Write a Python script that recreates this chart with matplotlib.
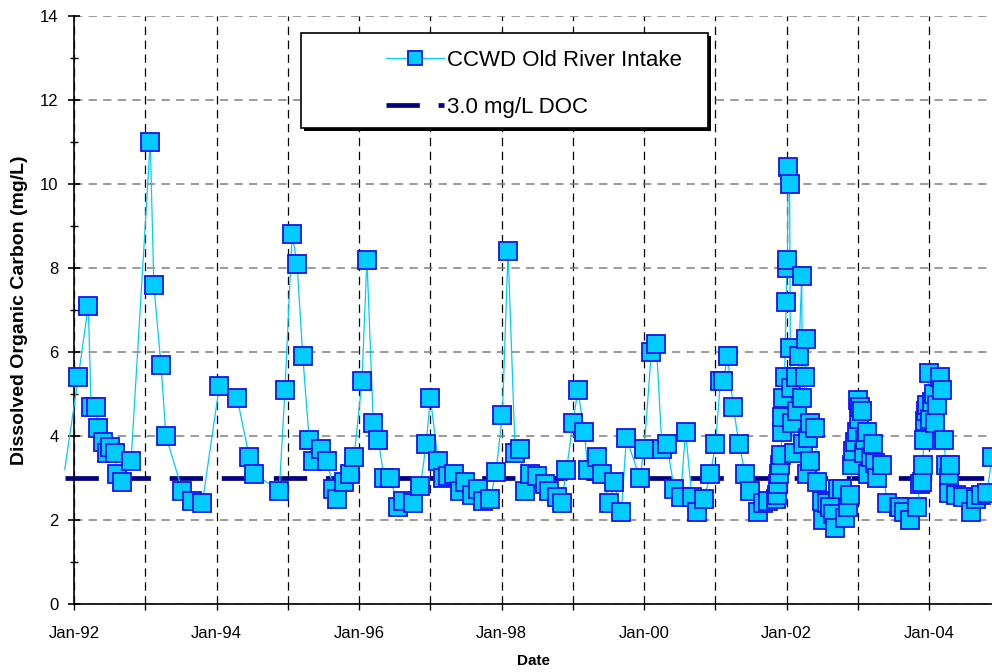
import matplotlib
matplotlib.use("Agg")
import matplotlib.pyplot as plt
from matplotlib.lines import Line2D
from matplotlib.patches import Rectangle
from matplotlib.ticker import MultipleLocator, FixedLocator

plt.rcParams['font.family'] = ['Liberation Sans', 'DejaVu Sans']
plt.rcParams['lines.scale_dashes'] = False

# sample dates as decimal years, DOC in mg/L (first point lies just before the axis)
dates = [
    1991.87, 1992.06, 1992.20, 1992.24, 1992.31, 1992.34, 1992.41, 1992.46, 1992.51,
    1992.58, 1992.60, 1992.67, 1992.80, 1993.07, 1993.12, 1993.22, 1993.29, 1993.52,
    1993.66, 1993.80, 1994.04, 1994.29, 1994.46, 1994.53, 1994.88, 1994.96, 1995.06,
    1995.13, 1995.21, 1995.30, 1995.35, 1995.47, 1995.55, 1995.64, 1995.69, 1995.79,
    1995.87, 1995.93, 1996.04, 1996.11, 1996.20, 1996.27, 1996.35, 1996.44, 1996.55,
    1996.62, 1996.76, 1996.86, 1996.94, 1997.00, 1997.11, 1997.18, 1997.25, 1997.33,
    1997.42, 1997.49, 1997.59, 1997.67, 1997.74, 1997.84, 1997.92, 1998.01, 1998.09,
    1998.19, 1998.26, 1998.33, 1998.40, 1998.50, 1998.61, 1998.67, 1998.78, 1998.84,
    1998.91, 1999.00, 1999.07, 1999.16, 1999.21, 1999.34, 1999.41, 1999.51, 1999.58,
    1999.68, 1999.75, 1999.94, 2000.00, 2000.10, 2000.17, 2000.25, 2000.32, 2000.42,
    2000.51, 2000.58, 2000.67, 2000.74, 2000.84, 2000.93, 2001.00, 2001.07, 2001.11,
    2001.17, 2001.25, 2001.33, 2001.42, 2001.49, 2001.59, 2001.67, 2001.74, 2001.85,
    2001.87, 2001.88, 2001.89, 2001.91, 2001.92, 2001.93, 2001.94, 2001.95, 2001.97,
    2001.99, 2002.00, 2002.01, 2002.02, 2002.04, 2002.05, 2002.06, 2002.08, 2002.10,
    2002.13, 2002.15, 2002.17, 2002.21, 2002.22, 2002.23, 2002.25, 2002.27, 2002.28,
    2002.30, 2002.32, 2002.33, 2002.40, 2002.43, 2002.50, 2002.51, 2002.56, 2002.61,
    2002.65, 2002.68, 2002.72, 2002.78, 2002.82, 2002.86, 2002.89, 2002.92, 2002.93,
    2002.96, 2002.99, 2003.00, 2003.02, 2003.03, 2003.06, 2003.08, 2003.10, 2003.13,
    2003.14, 2003.18, 2003.21, 2003.24, 2003.27, 2003.34, 2003.41, 2003.57, 2003.59,
    2003.64, 2003.73, 2003.83, 2003.87, 2003.90, 2003.91, 2003.92, 2003.94, 2003.96,
    2003.97, 2003.99, 2004.01, 2004.04, 2004.06, 2004.08, 2004.11, 2004.15, 2004.18,
    2004.20, 2004.24, 2004.27, 2004.28, 2004.29, 2004.38, 2004.48, 2004.58, 2004.65,
    2004.73, 2004.81, 2004.88,
]
doc = [
    3.2, 5.4, 7.1, 4.7, 4.7, 4.2, 3.85, 3.6, 3.75,
    3.6, 3.1, 2.9, 3.4, 11.0, 7.6, 5.7, 4.0, 2.7,
    2.45, 2.4, 5.2, 4.9, 3.5, 3.1, 2.7, 5.1, 8.8,
    8.1, 5.9, 3.9, 3.4, 3.7, 3.4, 2.75, 2.5, 2.9,
    3.1, 3.5, 5.3, 8.2, 4.3, 3.9, 3.0, 3.0, 2.3,
    2.45, 2.4, 2.8, 3.8, 4.9, 3.4, 3.0, 3.05, 3.1,
    2.7, 2.9, 2.6, 2.75, 2.45, 2.5, 3.15, 4.5, 8.4,
    3.6, 3.7, 2.7, 3.1, 3.05, 2.85, 2.7, 2.55, 2.4,
    3.2, 4.3, 5.1, 4.1, 3.2, 3.5, 3.1, 2.4, 2.9,
    2.2, 3.95, 3.0, 3.7, 6.0, 6.2, 3.7, 3.8, 2.75,
    2.55, 4.1, 2.55, 2.2, 2.5, 3.1, 3.8, 5.3, 5.3,
    5.9, 4.7, 3.8, 3.1, 2.7, 2.2, 2.4, 2.45, 2.5,
    2.6, 2.85, 3.1, 3.3, 3.55, 4.1, 4.45, 4.9, 5.4,
    7.2, 8.0, 8.2, 10.4, 10.0, 6.1, 5.15, 4.3, 3.6,
    5.4, 4.6, 5.9, 7.8, 4.9, 3.8, 5.4, 6.3, 3.1,
    3.95, 4.3, 3.4, 4.2, 2.9, 2.45, 2.0, 2.4, 2.3,
    2.15, 1.8, 2.75, 2.75, 2.05, 2.3, 2.6, 3.3, 3.65,
    3.85, 4.1, 4.85, 4.4, 4.7, 4.6, 3.6, 3.9, 4.1,
    3.1, 3.5, 3.8, 3.35, 3.0, 3.3, 2.4, 2.3, 2.3,
    2.2, 2.0, 2.3, 2.85, 2.9, 3.3, 3.9, 4.35, 4.6,
    4.75, 5.5, 4.4, 4.8, 5.0, 4.3, 4.75, 5.4, 5.1,
    3.9, 3.3, 3.0, 2.65, 3.3, 2.6, 2.55, 2.2, 2.5,
    2.6, 2.65, 3.5,
]
threshold_dates = [1991.88, 2004.88]
threshold_doc = [3.0, 3.0]

years = list(range(1992, 2005))
year_labels = ["Jan-%02d" % (y % 100) if y % 2 == 0 else "" for y in years]

fig = plt.figure(figsize=(9.92, 6.72), dpi=100)
ax = fig.add_axes([74 / 992, 68 / 672, 918 / 992, 588 / 672])

ax.set_xlim(1992.0, 2004.88)
ax.set_ylim(0, 14)

# grid: black dashed verticals, grey dashed horizontals
ax.xaxis.set_major_locator(FixedLocator(years))
ax.set_xticklabels(year_labels)
ax.yaxis.set_major_locator(MultipleLocator(2))
ax.yaxis.set_minor_locator(MultipleLocator(1))
ax.grid(axis='x', color='black', linestyle=(0, (6, 4)), linewidth=0.9)
ax.grid(axis='y', color='#808080', linestyle=(0, (6, 4.5)), linewidth=1.1)
ax.set_axisbelow(True)
for tick in ax.yaxis.get_major_ticks():
    if tick.get_loc() >= 14:
        tick.gridline.set_visible(False)

for s in ['top', 'right']:
    ax.spines[s].set_visible(False)
for s in ['left', 'bottom']:
    ax.spines[s].set_linewidth(1.2)

ax.tick_params(axis='y', which='major', direction='inout', length=8, width=1.2, labelsize=12, pad=7)
ax.tick_params(axis='y', which='minor', direction='inout', length=6, width=1.0)
ax.tick_params(axis='x', which='major', direction='out', length=4, width=1.0, labelsize=12, pad=12)

# 3.0 mg/L reference line
ax.plot(threshold_dates, threshold_doc, color='#000080', linewidth=3.4,
        dashes=(24, 13.5), solid_capstyle='butt', dash_capstyle='butt',
        clip_on=False, zorder=2)

# CCWD Old River Intake series
ax.plot(dates, doc, color='#00CCFF', linewidth=0.9, clip_on=False, zorder=3)
ax.plot(dates[1:], doc[1:], linestyle='none', marker='s', markersize=12.5,
        markerfacecolor='#00CCFF', markeredgecolor='#1414F0', markeredgewidth=1.3,
        clip_on=False, zorder=4)

ax.set_xlabel('Date', fontsize=11, fontweight='bold', labelpad=9)
ax.set_ylabel('Dissolved Organic Carbon (mg/L)', fontsize=14, fontweight='bold', labelpad=9)

# legend box with shadow
ax.add_patch(Rectangle((304 / 992, 1 - 131 / 672), 407 / 992, 95 / 672,
                       transform=fig.transFigure, facecolor='black',
                       edgecolor='none', zorder=5))
ax.add_patch(Rectangle((301 / 992, 1 - 128 / 672), 407 / 992, 95 / 672,
                       transform=fig.transFigure, facecolor='white',
                       edgecolor='black', linewidth=1.2, zorder=6))

h1 = Line2D([], [], color='#00CCFF', linewidth=0.9, marker='s', markersize=10,
            markerfacecolor='#00CCFF', markeredgecolor='#1414F0', markeredgewidth=1.3)
h2 = Line2D([], [], color='#000080', linewidth=3.4, dashes=(24, 13.5),
            dash_capstyle='butt')
leg = ax.legend([h1, h2], ['CCWD Old River Intake', '3.0 mg/L DOC'],
                loc='upper left', bbox_to_anchor=(386 / 992, 1 - 49.5 / 672),
                bbox_transform=fig.transFigure, frameon=False, fontsize=16,
                borderpad=0, borderaxespad=0, handlelength=2.62,
                handletextpad=0.12, labelspacing=1.2, numpoints=1)
leg.set_zorder(7)

fig.savefig('out.png', dpi=100)
